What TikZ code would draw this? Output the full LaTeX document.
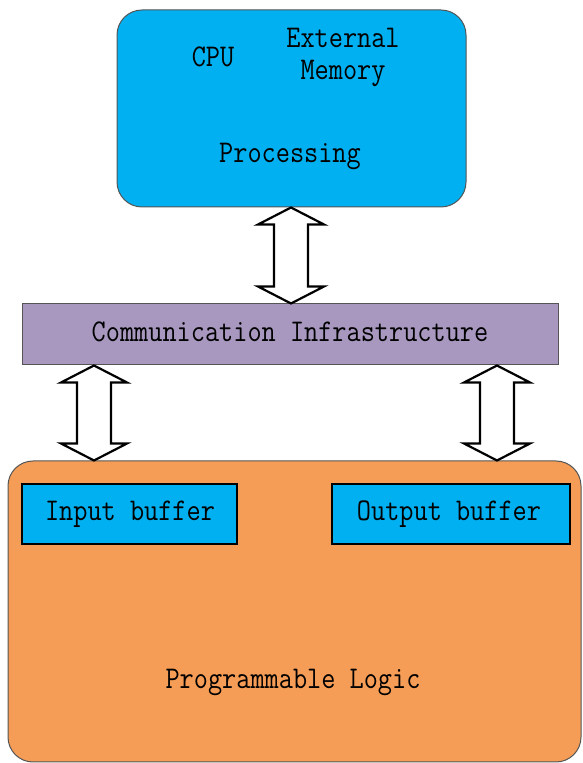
\documentclass[tikz,border=0pt]{standalone}
\usetikzlibrary{calc}
\definecolor{procblue}{HTML}{00B0F0}
\definecolor{commpurple}{HTML}{A898C0}
\definecolor{plorange}{HTML}{F59D56}
\definecolor{edgegray}{HTML}{555555}
\newcommand\tall[1]{\scalebox{1}[1.15]{#1}}
\tikzset{
  lbl/.style={font=\ttfamily\fontsize{27.5}{32}\selectfont, text=black, inner sep=0pt},
  bigbox/.style={draw=edgegray, line width=1pt, rounded corners=25pt, inner sep=0pt},
  bufbox/.style={draw=black, line width=2.2pt, fill=procblue, minimum height=60pt, inner sep=0pt},
  barrow/.style={draw=black, line width=2.2pt, fill=white, line join=miter},
}
% vertical double block arrow between two points
\newcommand\vdblarrow[2]{%
  \draw[barrow] let \p1=#1, \p2=#2 in
    (\x1,\y1) -- (\x1+33pt,\y1-17pt) -- (\x1+17pt,\y1-17pt) -- (\x1+17pt,\y2+17pt)
    -- (\x1+33pt,\y2+17pt) -- (\x1,\y2) -- (\x1-33pt,\y2+17pt) -- (\x1-17pt,\y2+17pt)
    -- (\x1-17pt,\y1-17pt) -- (\x1-33pt,\y1-17pt) -- cycle;}
\begin{document}
\begin{tikzpicture}[x=1pt,y=1pt]
\useasboundingbox (0,0) rectangle (582,763);

% processing system
\node[bigbox, fill=procblue, minimum width=349pt, minimum height=197pt] (ps) at (291.5,654.5) {};
\node[lbl] (cpu) at (213,706) {\tall{CPU}};
\node[lbl, align=center] (extmem) at (343,706) {\tall{External}\\\tall{Memory}};
\node[lbl] (proc) at (290,607) {\tall{Processing}};

% communication infrastructure
\node[draw=edgegray, line width=1pt, fill=commpurple, minimum width=536pt, minimum height=61pt, inner sep=0pt] (comm) at (290,428.5) {};
\node[lbl] (commtxt) at (290,431) {\tall{Communication Infrastructure}};

% programmable logic
\node[bigbox, fill=plorange, minimum width=573pt, minimum height=301pt] (pl) at (294.5,151.5) {};
\node[lbl] (pltxt) at (293,81) {\tall{Programmable Logic}};
\node[bufbox, minimum width=215pt] (inbuf) at (129.5,249) {};
\node[lbl] (intxt) at (130,249) {\tall{Input buffer}};
\node[bufbox, minimum width=238pt] (outbuf) at (451,249) {};
\node[lbl] (outtxt) at (449,249) {\tall{Output buffer}};

% connectors
\coordinate (mx) at (291,0);
\coordinate (lx) at (94,0);
\coordinate (rx) at (497,0);
\vdblarrow{(ps.south -| mx)}{(comm.north -| mx)}
\vdblarrow{(comm.south -| lx)}{(pl.north -| lx)}
\vdblarrow{(comm.south -| rx)}{(pl.north -| rx)}
\end{tikzpicture}
\end{document}
